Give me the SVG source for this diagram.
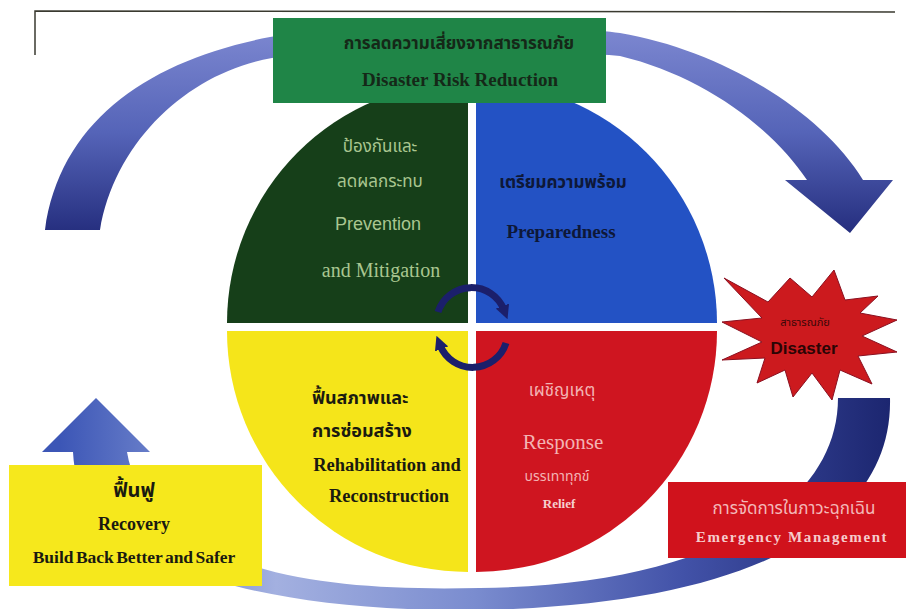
<svg xmlns="http://www.w3.org/2000/svg" width="911" height="609" viewBox="0 0 911 609">
<style>
.th{font-family:"Noto Sans Thai","Noto Serif Thai","DejaVu Sans","Noto Sans",sans-serif;}
.sr{font-family:"Liberation Serif","Times New Roman",serif;}
.ss{font-family:"Liberation Sans",Arial,sans-serif;}
.b{font-weight:bold;}
.mid{text-anchor:middle;}
</style>
<defs>
<linearGradient id="gTop" gradientUnits="userSpaceOnUse" x1="0" y1="30" x2="0" y2="235">
<stop offset="0" stop-color="#7c87d0"/><stop offset="0.5" stop-color="#5564b8"/><stop offset="1" stop-color="#242d7d"/>
</linearGradient>
<linearGradient id="gBot" gradientUnits="userSpaceOnUse" x1="60" y1="0" x2="890" y2="0">
<stop offset="0" stop-color="#3c56b6"/><stop offset="0.13" stop-color="#6f84cc"/><stop offset="0.26" stop-color="#a3b0e0"/><stop offset="0.5" stop-color="#7a8ccf"/><stop offset="0.75" stop-color="#4252a8"/><stop offset="1" stop-color="#1c2670"/>
</linearGradient>
<marker id="ah" viewBox="0 0 10 10" refX="3" refY="5" markerWidth="2" markerHeight="2" orient="auto">
<path d="M0,0 L10,5 L0,10 z" fill="#1b1f6b"/>
</marker>
</defs>
<rect width="911" height="609" fill="#ffffff"/>
<g id="frame" stroke="#3a3a30" stroke-width="1.5" fill="none">
<path d="M35,55 L35,11 L895,12"/>
</g>
<g id="connectors">
<path id="ring-top" fill="url(#gTop)" d="M45,230 C60,120 150,60 270,37 C330,25 550,22 620,33 C720,50 820,110 863,180 L893,180 L850,233 L785,180 L807,180 C770,125 700,75 620,56 C540,48 350,48 272,58 C190,72 115,140 100,230 Z"/>
<path id="ring-bottom" fill="url(#gBot)" d="M890,398 C893,520 760,605 480,610 C330,612 200,590 120,540 C90,520 75,490 73,452 L42,452 L96,398 L150,452 L127,452 C135,500 170,530 215,552 C290,585 380,590 480,588 C700,586 838,510 838,398 Z"/>
</g>
<g id="node-prevention">
<path d="M468,323 L227,323 A241 241 0 0 1 468,82 Z" fill="#163f19"/>
<text class="th mid" x="380" y="152" font-size="17" fill="#a9c690">ป้องกันและ</text>
<text class="th mid" x="380" y="187" font-size="17" fill="#a9c690">ลดผลกระทบ</text>
<text class="ss mid" x="378" y="230" font-size="18" fill="#a9c690">Prevention</text>
<text class="sr mid" x="381" y="277" font-size="20" fill="#a9c690">and Mitigation</text>
</g>
<g id="node-preparedness">
<path d="M476,323 L476,82 A241 241 0 0 1 717,323 Z" fill="#2352c4"/>
<text class="th b mid" x="563" y="188" font-size="17" fill="#0e1838">เตรียมความพร้อม</text>
<text class="sr b mid" x="561" y="238" font-size="19" fill="#0e1838">Preparedness</text>
</g>
<g id="node-response">
<path d="M476,331 L717,331 A241 241 0 0 1 476,572 Z" fill="#cf1520"/>
<text class="th mid" x="562" y="396" font-size="17" fill="#f3b3b3">เผชิญเหตุ</text>
<text class="sr mid" x="563" y="449" font-size="21" fill="#f3b3b3">Response</text>
<text class="th mid" x="557" y="481" font-size="14" fill="#f3b3b3">บรรเทาทุกข์</text>
<text class="sr b mid" x="559" y="508" font-size="13" fill="#f6d0d0">Relief</text>
</g>
<g id="node-rehabilitation">
<path d="M468,331 L468,572 A241 241 0 0 1 227,331 Z" fill="#f5e51a"/>
<text class="th b" x="312" y="404" font-size="18" fill="#1a1a10">ฟื้นสภาพและ</text>
<text class="th b" x="312" y="437" font-size="18" fill="#1a1a10">การซ่อมสร้าง</text>
<text class="sr b mid" x="387" y="471" font-size="18.5" fill="#1a1a10">Rehabilitation and</text>
<text class="sr b mid" x="389" y="502" font-size="18.5" fill="#1a1a10">Reconstruction</text>
</g>
<g id="cycle-arrows" fill="none" stroke="#1b1f6b" stroke-width="7">
<path d="M438,312 A35 35 0 0 1 504,310" marker-end="url(#ah)"/>
<path d="M506,343 A35 35 0 0 1 440,345" marker-end="url(#ah)"/>
</g>
<g id="node-drr">
<rect x="273" y="18" width="333" height="85" fill="#1f8547"/>
<text class="th b mid" x="459" y="49" font-size="17" fill="#152818">การลดความเสี่ยงจากสาธารณภัย</text>
<text class="sr b mid" x="460" y="86" font-size="19" fill="#152818">Disaster Risk Reduction</text>
</g>
<g id="node-disaster">
<path d="M724,278 L768,302 L790,278 L812,297 L834,270 L845,300 L878,296 L860,313 L897,320 L862,336 L897,352 L858,356 L872,384 L840,370 L832,400 L812,373 L793,397 L785,370 L757,383 L765,358 L722,360 L762,342 L722,322 L762,318 Z" fill="#cc1a1e" stroke="#8a1020" stroke-width="1"/>
<text class="th mid" x="805" y="326" font-size="11" fill="#3a0808">สาธารณภัย</text>
<text class="ss b mid" x="804" y="354" font-size="17" fill="#2a0505">Disaster</text>
</g>
<g id="node-emergency">
<rect x="668" y="482" width="238" height="76" fill="#d0121c"/>
<text class="th mid" x="794" y="514" font-size="17" fill="#f3b8b8">การจัดการในภาวะฉุกเฉิน</text>
<text class="sr b mid" x="792" y="542" font-size="15" letter-spacing="1.6" fill="#f6cccc">Emergency Management</text>
</g>
<g id="node-recovery">
<rect x="9" y="465" width="253" height="121" fill="#f6e81c"/>
<text class="th b mid" x="134" y="497" font-size="20" fill="#1a1a10">ฟื้นฟู</text>
<text class="sr b mid" x="134" y="530" font-size="18" fill="#1a1a10">Recovery</text>
<text class="sr b mid" x="134" y="563" font-size="17.5" word-spacing="-2" fill="#1a1a10">Build Back Better and Safer</text>
</g>
</svg>
